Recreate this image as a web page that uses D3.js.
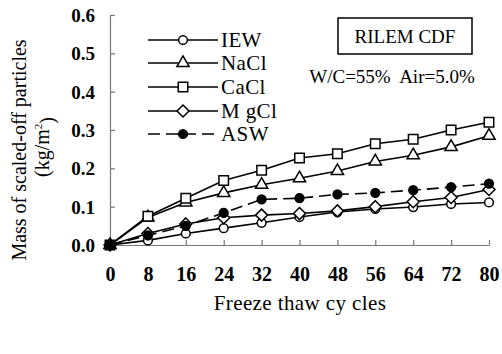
<!DOCTYPE html>
<html><head><meta charset="utf-8">
<script src="https://cdn.jsdelivr.net/npm/d3@7"></script>
<style>body{margin:0;background:#fff} svg text{font-family:"Liberation Serif","Times New Roman",serif}</style>
</head><body><svg id="c" width="502" height="354"></svg>
<script>
const cycles = [0, 8, 16, 24, 32, 40, 48, 56, 64, 72, 80];
const iew  = [0, 0.012, 0.030, 0.044, 0.058, 0.073, 0.086, 0.094, 0.099, 0.107, 0.111];
const nacl = [0, 0.072, 0.111, 0.136, 0.157, 0.174, 0.193, 0.218, 0.234, 0.256, 0.285];
const cacl = [0, 0.075, 0.122, 0.168, 0.195, 0.227, 0.238, 0.264, 0.276, 0.300, 0.320];
const mgcl = [0, 0.030, 0.055, 0.071, 0.078, 0.082, 0.089, 0.100, 0.113, 0.124, 0.145];
const asw  = [0, 0.025, 0.050, 0.084, 0.119, 0.122, 0.132, 0.136, 0.143, 0.151, 0.160];
const seriesNames = ["IEW", "NaCl", "CaCl", "M gCl", "ASW"];
const yTicks = [0, 0.1, 0.2, 0.3, 0.4, 0.5, 0.6];

const series = [
  {name: seriesNames[0], vals: iew, sym: "circle", fill: "#fff", dash: null},
  {name: seriesNames[1], vals: nacl, sym: "triangle", fill: "#fff", dash: null},
  {name: seriesNames[2], vals: cacl, sym: "square", fill: "#fff", dash: null},
  {name: seriesNames[3], vals: mgcl, sym: "diamond", fill: "#fff", dash: null},
  {name: seriesNames[4], vals: asw, sym: "circle", fill: "#000", dash: "12,6"}
];

const svg = d3.select("#c");
const x = d3.scaleLinear().domain([0, 80]).range([110, 489]);
const y = d3.scaleLinear().domain([0, 0.6]).range([245, 15]);

const xa = svg.append("g").attr("transform", "translate(0,245)")
  .call(d3.axisBottom(x).tickValues(cycles).tickSizeInner(-5).tickSizeOuter(0).tickPadding(22).tickFormat(d3.format("d")));
const ya = svg.append("g").attr("transform", "translate(110,0)")
  .call(d3.axisLeft(y).tickValues(yTicks).tickSizeInner(-5).tickSizeOuter(0).tickPadding(15).tickFormat(d3.format(".1f")));
[xa, ya].forEach(a => {
  a.attr("font-family", null);
  a.select(".domain").attr("stroke", "#777").attr("stroke-width", 1.2);
  a.selectAll(".tick line").attr("stroke", "#777").attr("stroke-width", 1.2);
  a.selectAll("text").style("font-weight", "bold").attr("fill", "#000");
});
xa.selectAll("text").style("font-size", "20px");
ya.selectAll("text").style("font-size", "19px").attr("dy", "0.35em");

function symPath(sym) {
  if (sym === "circle") return d3.symbol(d3.symbolCircle, 60)();
  if (sym === "triangle") return d3.symbol(d3.symbolTriangle, 65)();
  if (sym === "square") return d3.symbol(d3.symbolSquare, 90)();
  if (sym === "diamond") return "M0,-6L6,0L0,6L-6,0Z";
}

const line = d3.line().x((d, i) => x(cycles[i])).y(d => y(d));
series.forEach(s => {
  svg.append("path").attr("d", line(s.vals)).attr("fill", "none").attr("stroke", "#000")
    .attr("stroke-width", 1.6).attr("stroke-dasharray", s.dash);
});
series.forEach(s => {
  svg.append("g").selectAll("path").data(s.vals).join("path")
    .attr("transform", (d, i) => `translate(${x(cycles[i])},${y(d)})`)
    .attr("d", symPath(s.sym)).attr("fill", (d, i) => i === 0 ? "#000" : s.fill)
    .attr("stroke", "#000").attr("stroke-width", 1.5);
});

const legY = [40, 63, 87, 111, 134];
series.forEach((s, i) => {
  const g = svg.append("g").attr("transform", `translate(0,${legY[i]})`);
  g.append("line").attr("x1", 148).attr("x2", 218).attr("y1", 0).attr("y2", 0)
    .attr("stroke", "#000").attr("stroke-width", 1.6).attr("stroke-dasharray", s.dash);
  g.append("path").attr("transform", "translate(183,0)").attr("d", symPath(s.sym))
    .attr("fill", s.fill).attr("stroke", "#000").attr("stroke-width", 1.5);
  g.append("text").attr("x", 221).attr("y", 0).attr("dy", "0.35em")
    .style("font-size", "21px").style("letter-spacing", "0.4px").text(s.name);
});

svg.append("rect").attr("x", 338).attr("y", 18).attr("width", 134).attr("height", 36)
  .attr("fill", "none").attr("stroke", "#000").attr("stroke-width", 1.5);
svg.append("text").attr("x", 405).attr("y", 36).attr("dy", "0.35em").attr("text-anchor", "middle")
  .style("font-size", "19px").text("RILEM CDF");
svg.append("text").attr("x", 392).attr("y", 76).attr("dy", "0.35em").attr("text-anchor", "middle")
  .style("font-size", "19px").style("white-space", "pre").text("W/C=55%  Air=5.0%");

svg.append("text").attr("x", 300).attr("y", 303).attr("dy", "0.35em").attr("text-anchor", "middle")
  .style("font-size", "21px").style("letter-spacing", "0.4px").text("Freeze thaw cy cles");
svg.append("text").attr("transform", "translate(19,150) rotate(-90)").attr("text-anchor", "middle")
  .attr("dy", "0.35em").style("font-size", "20px").text("Mass of scaled-off particles");
const yt2 = svg.append("text").attr("transform", "translate(42,147) rotate(-90)").attr("text-anchor", "middle")
  .attr("dy", "0.35em").style("font-size", "20px");
yt2.append("tspan").text("(kg/m");
yt2.append("tspan").style("font-size", "11px").attr("dy", "-0.6em").text("2");
yt2.append("tspan").attr("dy", "0.6em").text(")");
</script></body></html>
